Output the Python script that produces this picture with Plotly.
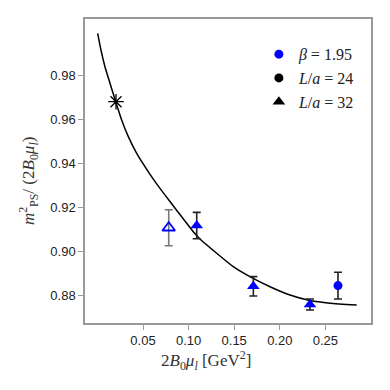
import plotly.graph_objects as go

# fit curve
curve_x = [0.0003, 0.0039, 0.0083, 0.0138, 0.0201, 0.0266, 0.0339, 0.0431,
           0.0577, 0.0686, 0.0796, 0.0924, 0.1052, 0.1125, 0.1308, 0.1490,
           0.1692, 0.1893, 0.2112, 0.2331, 0.2551, 0.2843]
curve_y = [0.9991, 0.9915, 0.9839, 0.9764, 0.9680, 0.9597, 0.9521, 0.9445,
           0.9350, 0.9286, 0.9226, 0.9157, 0.9089, 0.9056, 0.8991, 0.8930,
           0.8880, 0.8839, 0.8801, 0.8776, 0.8764, 0.8756]

# physical point
star_x = [0.0204]
star_y = [0.9680]

# L/a = 32 (filled triangles)
tri_x = [0.1089, 0.1710, 0.2331]
tri_y = [0.9117, 0.8841, 0.8758]
tri_err = [0.0060, 0.0044, 0.0025]

# open triangle
open_x = [0.0782]
open_y = [0.9107]
open_err = [0.0082]

# L/a = 24 (circle)
circ_x = [0.2638]
circ_y = [0.8844]
circ_err = [0.0061]

x_ticks = [0.05, 0.10, 0.15, 0.20, 0.25]
y_ticks = [0.88, 0.90, 0.92, 0.94, 0.96, 0.98]

serif = "Liberation Serif"
sans = "Liberation Sans"

fig = go.Figure()

fig.add_trace(go.Scatter(
    x=curve_x, y=curve_y, mode="lines",
    line=dict(color="black", width=1.5, shape="spline", smoothing=0.5),
    showlegend=False, hoverinfo="skip",
))

fig.add_trace(go.Scatter(
    x=open_x, y=open_y, mode="markers",
    marker=dict(symbol="triangle-up-open", size=11, color="blue", line=dict(width=1.8, color="blue")),
    error_y=dict(type="data", array=open_err, color="#777777", thickness=1.6, width=4),
    showlegend=False,
))

fig.add_trace(go.Scatter(
    x=tri_x, y=tri_y, mode="markers",
    marker=dict(symbol="triangle-up", size=11, color="blue"),
    error_y=dict(type="data", array=tri_err, color="#222222", thickness=1.6, width=4),
    showlegend=False,
))

fig.add_trace(go.Scatter(
    x=circ_x, y=circ_y, mode="markers",
    marker=dict(symbol="circle", size=9, color="blue"),
    error_y=dict(type="data", array=circ_err, color="#222222", thickness=1.6, width=4),
    showlegend=False,
))

fig.add_trace(go.Scatter(
    x=star_x, y=star_y, mode="markers",
    marker=dict(symbol="asterisk-open", size=13, color="black", line=dict(width=1.3, color="black")),
    showlegend=False,
))

# legend entries
fig.add_trace(go.Scatter(x=[None], y=[None], mode="markers", name="<i>β</i> = 1.95",
                         marker=dict(symbol="circle", size=9, color="blue")))
fig.add_trace(go.Scatter(x=[None], y=[None], mode="markers", name="<i>L</i>/<i>a</i> = 24",
                         marker=dict(symbol="circle", size=9, color="black")))
fig.add_trace(go.Scatter(x=[None], y=[None], mode="markers", name="<i>L</i>/<i>a</i> = 32",
                         marker=dict(symbol="triangle-up", size=11, color="black")))

axis_common = dict(
    showline=True, linecolor="#999999", linewidth=1.5, mirror=True,
    ticks="outside", ticklen=5, tickcolor="#999999", tickwidth=1,
    showgrid=False, zeroline=False, automargin=False,
    tickfont=dict(family=sans, size=13, color="#222222"),
)

# the page body adds an 8px margin, so the figure is sized to fit the window
fig.update_layout(
    width=382, height=382,
    margin=dict(l=77, r=19, t=11, b=67),
    paper_bgcolor="white", plot_bgcolor="white",
    xaxis=dict(
        range=[-0.0136, 0.300], tickvals=x_ticks,
        ticktext=[f"{v:.2f}" for v in x_ticks],
        **axis_common,
    ),
    yaxis=dict(
        range=[0.8674, 1.0056], tickvals=y_ticks,
        ticktext=[f"{v:.2f}" for v in y_ticks],
        **axis_common,
    ),
    legend=dict(
        x=0.608, y=0.94, xanchor="left", yanchor="top",
        bgcolor="rgba(0,0,0,0)", font=dict(family=serif, size=16, color="#222222"),
        itemwidth=30, tracegroupgap=0,
    ),
    annotations=[
        dict(text="2<i>B</i><sub>0</sub><i>μ<sub>l</sub></i> [GeV<sup>2</sup>]",
             xref="paper", yref="paper", x=0.423, y=-0.122, xanchor="center", yanchor="middle",
             showarrow=False, font=dict(family=serif, size=17, color="#333333")),
        dict(text="<i>m</i><sup>2</sup><sub>PS</sub>/ (2<i>B</i><sub>0</sub><i>μ<sub>l</sub></i>)",
             xref="paper", yref="paper", x=-0.199, y=0.467, xanchor="center", yanchor="middle",
             textangle=-90, showarrow=False, font=dict(family=serif, size=17, color="#333333")),
    ],
)

fig.write_html("out.html")
